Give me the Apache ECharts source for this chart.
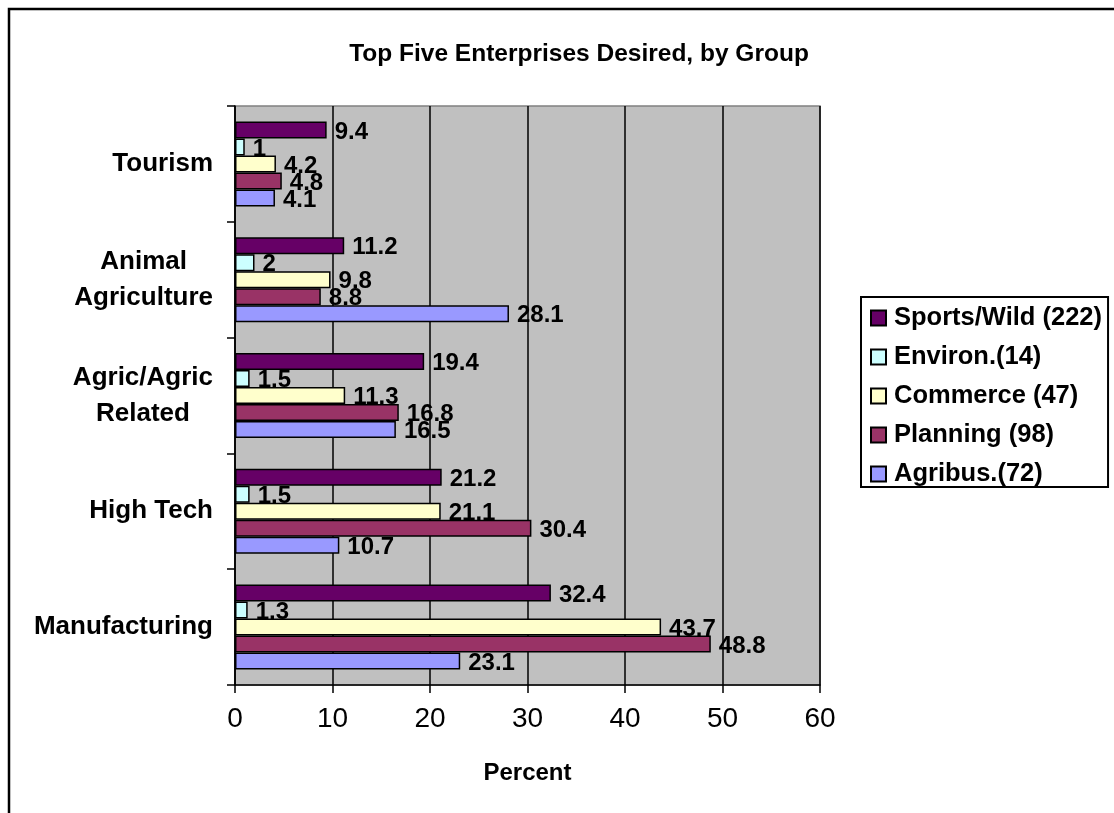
<!DOCTYPE html>
<html>
<head>
<meta charset="utf-8">
<title>Top Five Enterprises Desired, by Group</title>
<script src="https://cdn.jsdelivr.net/npm/echarts@6/dist/echarts.min.js"></script>
<style>
  html, body { margin: 0; padding: 0; background: #ffffff; }
  #chart { width: 1114px; height: 813px; }
</style>
</head>
<body>
<div id="chart"></div>
<script>
// Enterprise groups, listed bottom to top as they appear on the category axis
const categories = ['Manufacturing', 'High Tech', 'Agric/Agric\nRelated', 'Animal\nAgriculture', 'Tourism'];

// Percent of each respondent group choosing the enterprise
const sportsWild = [32.4, 21.2, 19.4, 11.2, 9.4];
const environ    = [1.3, 1.5, 1.5, 2, 1];
const commerce   = [43.7, 21.1, 11.3, 9.8, 4.2];
const planning   = [48.8, 30.4, 16.8, 8.8, 4.8];
const agribus    = [23.1, 10.7, 16.5, 28.1, 4.1];

const seriesNames = ['Sports/Wild (222)', 'Environ.(14)', 'Commerce (47)', 'Planning (98)', 'Agribus.(72)'];
const seriesColors = ['#660066', '#CCFFFF', '#FFFFCC', '#993366', '#9999FF'];
const seriesValues = [sportsWild, environ, commerce, planning, agribus];

// Value axis ticks
const percentMin = 0;
const percentMax = 60;
const percentStep = 10;

const FONT = '"Liberation Sans", Arial, sans-serif';

const chart = echarts.init(document.getElementById('chart'), null, { renderer: 'canvas' });

// The first series is drawn at the top of each group, Agribus ends up at the bottom
const series = seriesNames.map(function (name, i) {
  return {
    name: name,
    type: 'bar',
    data: seriesValues[i],
    barWidth: 17,
    barGap: '0%',
    itemStyle: { color: seriesColors[i], borderColor: '#000000', borderWidth: 1.5 },
    label: {
      show: true,
      position: 'right',
      distance: 8,
      offset: [0, 2],
      color: '#000000',
      fontFamily: FONT,
      fontWeight: 'bold',
      fontSize: 24
    },
    emphasis: { disabled: true },
    animation: false
  };
});

const option = {
  backgroundColor: '#ffffff',
  animation: false,
  title: {
    text: 'Top Five Enterprises Desired, by Group',
    left: 574,
    top: 37,
    textAlign: 'center',
    textStyle: { fontFamily: FONT, fontWeight: 'bold', fontSize: 24.5, color: '#000000' }
  },
  legend: {
    orient: 'vertical',
    left: 861,
    top: 297,
    data: seriesNames.slice(),
    icon: 'rect',
    itemWidth: 15,
    itemHeight: 15,
    itemGap: 13,
    padding: [8, 6, 0, 9],
    borderColor: '#000000',
    borderWidth: 2,
    backgroundColor: '#ffffff',
    selectedMode: false,
    textStyle: {
      fontFamily: FONT,
      fontWeight: 'bold',
      fontSize: 25.5,
      lineHeight: 26,
      color: '#000000',
      padding: [0, 0, 0, 3]
    }
  },
  grid: {
    left: 235,
    right: 294,
    top: 106,
    bottom: 128,
    show: true,
    backgroundColor: '#C0C0C0',
    borderColor: '#808080',
    borderWidth: 1.5
  },
  xAxis: {
    type: 'value',
    min: percentMin,
    max: percentMax,
    interval: percentStep,
    name: 'Percent',
    nameLocation: 'middle',
    nameGap: 76,
    nameTextStyle: { fontFamily: FONT, fontWeight: 'bold', fontSize: 24, color: '#000000' },
    axisLine: { show: true, lineStyle: { color: '#000000', width: 1.5 } },
    axisTick: { show: true, inside: false, length: 8, lineStyle: { color: '#000000', width: 1.5 } },
    axisLabel: { margin: 20, fontFamily: FONT, fontSize: 28, color: '#000000' },
    splitLine: { show: true, lineStyle: { color: '#000000', width: 1.5 } }
  },
  yAxis: {
    type: 'category',
    data: categories,
    axisLine: { show: true, lineStyle: { color: '#000000', width: 1.5 } },
    axisTick: { show: true, inside: false, length: 8, alignWithLabel: false, lineStyle: { color: '#000000', width: 1.5 } },
    axisLabel: {
      margin: 22,
      align: 'right',
      formatter: function (value) {
        return value.split('\n').map(function (line) { return '{c|' + line + '}'; }).join('\n');
      },
      rich: {
        c: {
          align: 'center',
          fontFamily: FONT,
          fontWeight: 'bold',
          fontSize: 26,
          lineHeight: 36,
          color: '#000000'
        }
      }
    },
    splitLine: { show: false }
  },
  graphic: [{
    type: 'rect',
    shape: { x: 9, y: 9, width: 1200, height: 900 },
    style: { fill: null, stroke: '#000000', lineWidth: 2.5 },
    silent: true,
    z: 100
  }],
  series: series
};

chart.setOption(option);
</script>
</body>
</html>
